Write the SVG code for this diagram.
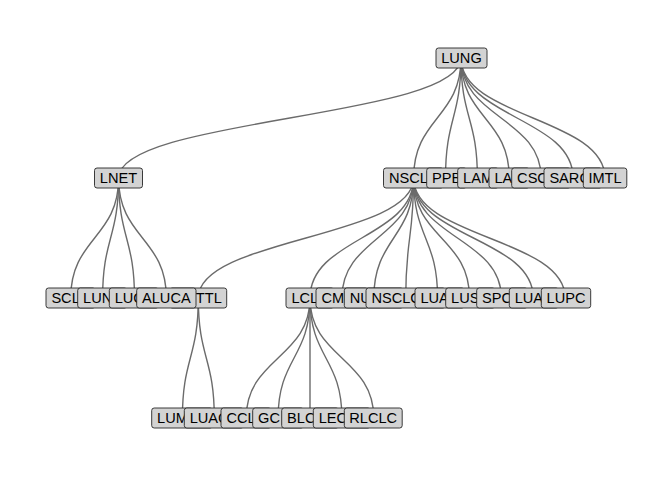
<svg xmlns="http://www.w3.org/2000/svg" width="672" height="480" viewBox="0 0 672 480">
<style>
.e{fill:none;stroke:#6b6b6b;stroke-width:1.4}
.b{fill:#d3d3d3;stroke:#262626;stroke-width:0.9}
.t{font-family:"Liberation Sans",Arial,sans-serif;font-size:14.6px;fill:#000}
.c{text-anchor:middle}
</style>
<rect width="672" height="480" fill="#fff"/>
<g id="edges">
<path class="e" d="M461,58 C461,118 118.6,118 118.6,178"/>
<path class="e" d="M461,58 C461,118 413.6,118 413.6,178"/>
<path class="e" d="M461,58 C461,118 445.5,118 445.5,178"/>
<path class="e" d="M461,58 C461,118 477.4,118 477.4,178"/>
<path class="e" d="M461,58 C461,118 509.3,118 509.3,178"/>
<path class="e" d="M461,58 C461,118 541.2,118 541.2,178"/>
<path class="e" d="M461,58 C461,118 573.1,118 573.1,178"/>
<path class="e" d="M461,58 C461,118 605,118 605,178"/>
<path class="e" d="M118.6,178 C118.6,238 70.7,238 70.7,298"/>
<path class="e" d="M118.6,178 C118.6,238 102.6,238 102.6,298"/>
<path class="e" d="M118.6,178 C118.6,238 134.5,238 134.5,298"/>
<path class="e" d="M118.6,178 C118.6,238 166.4,238 166.4,298"/>
<path class="e" d="M413.6,178 C413.6,238 198.3,238 198.3,298"/>
<path class="e" d="M413.6,178 C413.6,238 310,238 310,298"/>
<path class="e" d="M413.6,178 C413.6,238 341.9,238 341.9,298"/>
<path class="e" d="M413.6,178 C413.6,238 373.8,238 373.8,298"/>
<path class="e" d="M413.6,178 C413.6,238 405.7,238 405.7,298"/>
<path class="e" d="M413.6,178 C413.6,238 437.6,238 437.6,298"/>
<path class="e" d="M413.6,178 C413.6,238 469.5,238 469.5,298"/>
<path class="e" d="M413.6,178 C413.6,238 501.4,238 501.4,298"/>
<path class="e" d="M413.6,178 C413.6,238 533.3,238 533.3,298"/>
<path class="e" d="M413.6,178 C413.6,238 565.2,238 565.2,298"/>
<path class="e" d="M198.3,298 C198.3,358 182.4,358 182.4,418"/>
<path class="e" d="M198.3,298 C198.3,358 214.3,358 214.3,418"/>
<path class="e" d="M310,298 C310,358 246.2,358 246.2,418"/>
<path class="e" d="M310,298 C310,358 278.1,358 278.1,418"/>
<path class="e" d="M310,298 C310,358 310,358 310,418"/>
<path class="e" d="M310,298 C310,358 341.9,358 341.9,418"/>
<path class="e" d="M310,298 C310,358 373.8,358 373.8,418"/>
</g>
<g id="n-lung"><rect class="b" x="436" y="48" width="51" height="20" rx="2.5"/><text class="t c" x="461.5" y="63.2">LUNG</text></g>
<g id="n-lnet"><rect class="b" x="94.5" y="168" width="48" height="20" rx="2.5"/><text class="t c" x="118.5" y="183.2">LNET</text></g>
<g id="n-nsclc"><rect class="b" x="383.5" y="168" width="60" height="20" rx="2.5"/><text class="t" x="388.9" y="183.2">NSCL</text></g>
<g id="n-ppb"><rect class="b" x="426.7" y="168" width="40" height="20" rx="2.5"/><text class="t" x="432.1" y="183.2">PPB</text></g>
<g id="n-lam"><rect class="b" x="457.7" y="168" width="41" height="20" rx="2.5"/><text class="t" x="463.1" y="183.2">LAM</text></g>
<g id="n-la"><rect class="b" x="489" y="168" width="40.6" height="20" rx="2.5"/><text class="t" x="494.4" y="183.2">LA</text></g>
<g id="n-csc"><rect class="b" x="511.7" y="168" width="59" height="20" rx="2.5"/><text class="t" x="517.1" y="183.2">CSC</text></g>
<g id="n-sar"><rect class="b" x="544" y="168" width="58" height="20" rx="2.5"/><text class="t" x="549.4" y="183.2">SARC</text></g>
<g id="n-imtl"><rect class="b" x="583.3" y="168" width="43.5" height="20" rx="2.5"/><text class="t c" x="605" y="183.2">IMTL</text></g>
<g id="n-sclc"><rect class="b" x="46" y="288" width="49.4" height="20" rx="2.5"/><text class="t" x="51.4" y="303.2">SCL</text></g>
<g id="n-lune"><rect class="b" x="77.7" y="288" width="49.4" height="20" rx="2.5"/><text class="t" x="83.1" y="303.2">LUN</text></g>
<g id="n-luca"><rect class="b" x="109.3" y="288" width="49.4" height="20" rx="2.5"/><text class="t" x="114.7" y="303.2">LUC</text></g>
<g id="n-sgttl"><rect class="b" x="169.7" y="288" width="57" height="20" rx="2.5"/><text class="t" x="195.8" y="303.2">TTL</text></g>
<g id="n-aluca"><rect class="b" x="136.7" y="288" width="59.3" height="20" rx="2.5"/><text class="t c" x="166.35" y="303.2">ALUCA</text></g>
<g id="n-lclc"><rect class="b" x="286" y="288" width="48" height="20" rx="2.5"/><text class="t" x="291.4" y="303.2">LCL</text></g>
<g id="n-cmpt"><rect class="b" x="316" y="288" width="52" height="20" rx="2.5"/><text class="t" x="321.4" y="303.2">CM</text></g>
<g id="n-nu"><rect class="b" x="344.3" y="288" width="59" height="20" rx="2.5"/><text class="t" x="349.7" y="303.2">NU</text></g>
<g id="n-nsclcpd"><rect class="b" x="366" y="288" width="79.4" height="20" rx="2.5"/><text class="t" x="371.4" y="303.2">NSCLC</text></g>
<g id="n-luad"><rect class="b" x="415" y="288" width="49.4" height="20" rx="2.5"/><text class="t" x="420.4" y="303.2">LUA</text></g>
<g id="n-lusc"><rect class="b" x="445.7" y="288" width="49.4" height="20" rx="2.5"/><text class="t" x="451.1" y="303.2">LUS</text></g>
<g id="n-spcc"><rect class="b" x="476.7" y="288" width="51" height="20" rx="2.5"/><text class="t" x="482.1" y="303.2">SPC</text></g>
<g id="n-luas"><rect class="b" x="509.3" y="288" width="49.4" height="20" rx="2.5"/><text class="t" x="514.7" y="303.2">LUA</text></g>
<g id="n-lupc"><rect class="b" x="541.3" y="288" width="49.4" height="20" rx="2.5"/><text class="t c" x="566" y="303.2">LUPC</text></g>
<g id="n-lumec"><rect class="b" x="151.7" y="408" width="61" height="20" rx="2.5"/><text class="t" x="157.1" y="423.2">LUM</text></g>
<g id="n-luacc"><rect class="b" x="184.3" y="408" width="59.4" height="20" rx="2.5"/><text class="t" x="189.7" y="423.2">LUAC</text></g>
<g id="n-cclc"><rect class="b" x="221" y="408" width="50.3" height="20" rx="2.5"/><text class="t" x="226.4" y="423.2">CCL</text></g>
<g id="n-gclc"><rect class="b" x="252.7" y="408" width="51" height="20" rx="2.5"/><text class="t" x="258.1" y="423.2">GC</text></g>
<g id="n-blclc"><rect class="b" x="281.7" y="408" width="57.1" height="20" rx="2.5"/><text class="t" x="287.1" y="423.2">BLC</text></g>
<g id="n-leclc"><rect class="b" x="313.3" y="408" width="57.1" height="20" rx="2.5"/><text class="t" x="318.7" y="423.2">LEC</text></g>
<g id="n-rlclc"><rect class="b" x="344.3" y="408" width="57.9" height="20" rx="2.5"/><text class="t c" x="373.25" y="423.2">RLCLC</text></g>
</svg>
